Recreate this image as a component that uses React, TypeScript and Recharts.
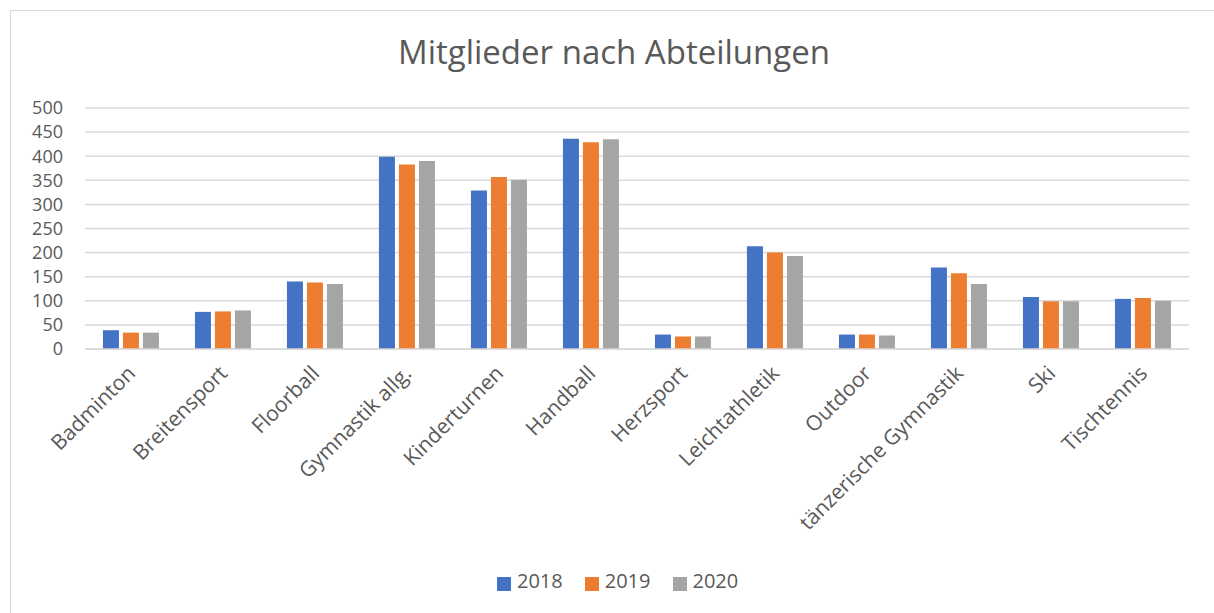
import React from "react";
import { BarChart, Bar, XAxis, YAxis, CartesianGrid, Legend } from "recharts";

const categories = [
  "Badminton",
  "Breitensport",
  "Floorball",
  "Gymnastik allg.",
  "Kinderturnen",
  "Handball",
  "Herzsport",
  "Leichtathletik",
  "Outdoor",
  "tänzerische Gymnastik",
  "Ski",
  "Tischtennis",
];

const values2018 = [39, 77, 140, 399, 329, 436, 30, 213, 30, 169, 108, 104];
const values2019 = [34, 78, 138, 383, 357, 429, 26, 200, 30, 157, 99, 106];
const values2020 = [34, 80, 135, 390, 351, 435, 26, 193, 28, 135, 99, 100];

const yTicks = [0, 50, 100, 150, 200, 250, 300, 350, 400, 450, 500];

const data = categories.map((name, i) => ({
  name,
  "2018": values2018[i],
  "2019": values2019[i],
  "2020": values2020[i],
}));

const FONT = "'Open Sans', sans-serif";
const TEXT = "#595959";

const RotatedTick = (props: any) => {
  const { x, y, payload } = props;
  return (
    <g transform={`translate(${x},${y + 12})`}>
      <text
        textAnchor="end"
        transform="rotate(-45)"
        fill={TEXT}
        fontSize={21}
        fontFamily={FONT}
        dy={8}
      >
        {payload.value}
      </text>
    </g>
  );
};

export default function App() {
  return (
    <div
      style={{
        position: "fixed",
        left: 0,
        top: 0,
        width: 1214,
        height: 613,
        overflow: "hidden",
        background: "#fff",
      }}
    >
      <div
        style={{
          position: "absolute",
          left: 10,
          top: 10,
          width: 1220,
          height: 640,
          border: "1px solid #d9d9d9",
        }}
      />
      <div
        style={{
          position: "absolute",
          left: 10,
          top: 30,
          width: 1208,
          textAlign: "center",
          fontFamily: FONT,
          fontSize: 33,
          lineHeight: "44px",
          color: TEXT,
        }}
      >
        Mitglieder nach Abteilungen
      </div>
      <div style={{ position: "absolute", left: 0, top: 0 }}>
        <BarChart
          width={1214}
          height={613}
          data={data}
          margin={{ top: 108, right: 25, left: 0, bottom: 16 }}
          barGap={4}
          barCategoryGap="19.5%"
        >
          <CartesianGrid
            vertical={false}
            stroke="#d9d9d9"
            strokeWidth={1.5}
          />
          <XAxis
            dataKey="name"
            interval={0}
            height={218}
            tick={<RotatedTick />}
            tickLine={false}
            axisLine={{ stroke: "#d9d9d9", strokeWidth: 1.5 }}
          />
          <YAxis
            width={85}
            domain={[0, 500]}
            ticks={yTicks}
            interval={0}
            tickLine={false}
            tickSize={0}
            tickMargin={22}
            axisLine={false}
            tick={{ fill: TEXT, fontSize: 18, fontFamily: FONT }}
          />
          <Legend
            verticalAlign="bottom"
            height={30}
            iconType="square"
            iconSize={14}
            wrapperStyle={{ left: 497, width: "auto" }}
            formatter={(value: string) => (
              <span
                style={{
                  color: TEXT,
                  fontSize: 20,
                  fontFamily: FONT,
                  marginRight: 12,
                  marginLeft: 2,
                }}
              >
                {value}
              </span>
            )}
          />
          <Bar dataKey="2018" fill="#4472C4" isAnimationActive={false} />
          <Bar dataKey="2019" fill="#ED7D31" isAnimationActive={false} />
          <Bar dataKey="2020" fill="#A5A5A5" isAnimationActive={false} />
        </BarChart>
      </div>
    </div>
  );
}
